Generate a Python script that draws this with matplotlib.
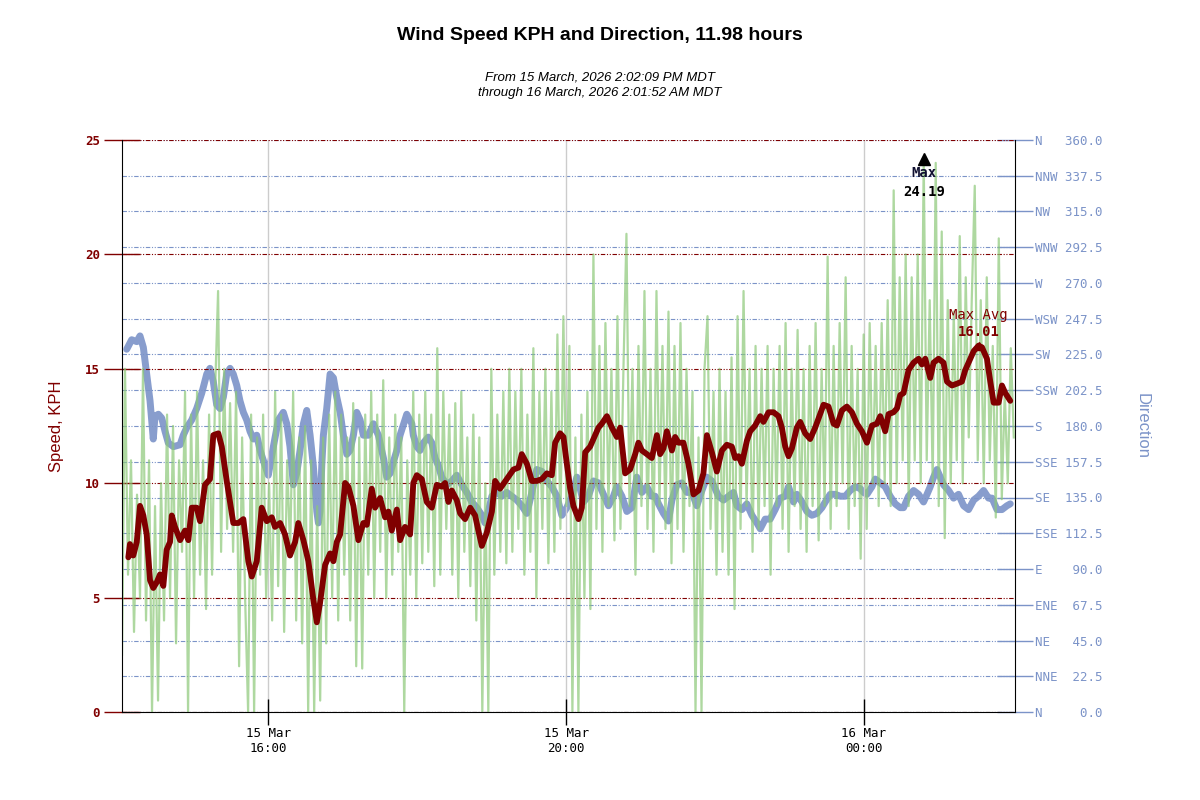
import numpy as np
import pandas as pd
import matplotlib
matplotlib.use('Agg')
import matplotlib.pyplot as plt

# time window
start = pd.Timestamp('2026-03-15 14:02:09')
end = pd.Timestamp('2026-03-16 02:01:52')

# gust speed, one sample every 2.42 minutes
gust_kph = [
    2.5, 15.0, 6.0, 11.0, 3.5, 9.5, 5.0, 15.0, 4.0, 11.0,
    0.0, 9.0, 0.5, 10.0, 4.0, 13.0, 5.0, 12.5, 3.0, 11.0,
    7.0, 14.0, 0.0, 13.0, 5.0, 14.0, 6.0, 11.0, 4.5, 13.0,
    6.0, 14.0, 18.4, 7.0, 15.0, 8.0, 13.5, 7.0, 14.0, 2.0,
    12.0, 5.0, 0.0, 13.0, 0.0, 12.0, 6.0, 13.0, 5.0, 10.0,
    4.0, 14.0, 5.5, 13.0, 3.5, 11.0, 7.0, 14.0, 4.0, 12.0,
    3.0, 12.5, 0.0, 11.0, 0.0, 9.0, 0.5, 12.0, 3.0, 13.0,
    5.0, 14.0, 4.0, 13.0, 6.0, 12.0, 4.0, 13.5, 2.0, 12.0,
    1.9, 13.0, 6.0, 14.0, 5.0, 13.0, 7.0, 14.5, 5.0, 12.0,
    6.0, 13.0, 7.0, 12.0, 0.0, 11.0, 6.0, 14.0, 5.0, 13.0,
    6.5, 14.0, 7.0, 13.0, 5.5, 15.9, 6.0, 14.0, 8.0, 13.0,
    6.0, 13.5, 5.0, 14.0, 7.0, 12.0, 5.5, 13.0, 4.0, 12.0,
    0.0, 10.0, 0.0, 15.0, 6.0, 13.0, 7.0, 14.0, 6.5, 15.0,
    7.0, 14.0, 8.0, 15.0, 6.0, 13.0, 7.0, 15.9, 5.0, 14.0,
    8.0, 15.0, 6.5, 14.0, 7.0, 16.5, 8.0, 17.3, 9.0, 16.0,
    0.0, 12.0, 0.0, 13.0, 5.0, 14.0, 4.5, 20.0, 8.0, 16.0,
    7.0, 17.0, 9.0, 15.0, 7.5, 17.3, 8.0, 15.0, 20.9, 9.0,
    15.0, 6.0, 16.0, 9.0, 18.4, 8.0, 15.0, 7.0, 18.4, 9.0,
    16.0, 8.0, 17.5, 6.5, 16.0, 8.0, 17.0, 7.0, 15.0, 9.0,
    14.0, 0.0, 12.0, 0.0, 15.0, 17.3, 8.0, 14.0, 6.0, 15.0,
    7.0, 14.0, 6.0, 15.5, 4.5, 17.3, 8.0, 18.4, 9.0, 15.0,
    7.0, 16.0, 8.0, 15.0, 9.0, 16.0, 6.0, 15.0, 9.0, 16.0,
    8.0, 17.0, 7.0, 15.0, 9.0, 16.7, 8.0, 15.0, 7.0, 16.0,
    9.0, 17.0, 7.5, 15.0, 9.0, 19.9, 8.0, 16.0, 9.0, 17.0,
    10.0, 19.0, 8.0, 16.0, 9.0, 15.0, 6.7, 16.5, 8.0, 17.0,
    10.0, 16.0, 9.0, 17.0, 10.0, 18.0, 9.0, 22.8, 10.0, 19.0,
    11.0, 20.0, 9.0, 19.0, 11.0, 20.0, 10.0, 24.19, 11.0, 18.0,
    10.0, 24.0, 9.0, 21.0, 7.6, 18.0, 10.0, 17.5, 11.0, 20.8,
    10.0, 19.0, 12.0, 18.0, 23.0, 11.0, 18.0, 10.0, 19.0, 11.0,
    16.0, 8.5, 20.7, 9.3, 14.0, 10.0, 15.9, 12.0,
]
gust_step_min = 2.42

# average speed (minutes after start, kph)
avg_min = [
    5.1, 6.4, 9.1, 11.9, 14.5, 17.2, 19.9, 22.6, 25.2, 28.0,
    30.6, 33.3, 36.0, 38.7, 40.1, 42.7, 46.8, 50.8, 53.5, 56.2,
    60.2, 62.9, 66.9, 70.9, 73.6, 77.6, 80.4, 84.4, 89.7, 93.8,
    97.8, 101.8, 104.6, 108.6, 112.6, 116.7, 120.7, 123.3, 127.4, 131.4,
    135.4, 139.5, 142.1, 146.2, 150.2, 154.2, 157.0, 159.6, 163.7, 167.7,
    170.4, 173.1, 175.8, 179.8, 182.4, 186.5, 190.5, 194.5, 197.3, 201.3,
    204.0, 208.0, 212.0, 214.7, 217.4, 221.5, 224.1, 228.1, 232.2, 234.8,
    237.6, 241.6, 245.6, 249.7, 253.7, 257.7, 260.4, 263.1, 265.8, 269.8,
    272.5, 276.5, 280.6, 284.6, 287.2, 290.0, 294.0, 298.1, 300.7, 304.7,
    310.1, 315.5, 319.5, 322.2, 326.3, 330.3, 334.3, 338.4, 342.4, 346.4,
    349.1, 353.1, 355.8, 358.5, 361.2, 363.8, 367.9, 370.6, 373.3, 377.3,
    380.0, 384.0, 386.7, 390.8, 394.8, 398.8, 401.5, 405.5, 409.5, 413.6,
    416.2, 419.0, 423.0, 427.0, 431.1, 433.7, 436.4, 439.1, 443.2, 445.8,
    448.5, 452.5, 456.5, 460.6, 464.6, 468.6, 471.4, 475.4, 479.4, 483.5,
    487.5, 491.5, 494.2, 496.9, 499.6, 503.6, 506.3, 510.3, 514.4, 517.0,
    521.1, 525.1, 529.1, 531.8, 534.5, 537.2, 539.9, 543.9, 546.6, 550.6,
    554.6, 558.7, 562.7, 565.4, 569.4, 573.5, 576.2, 580.2, 584.2, 588.3,
    592.3, 596.3, 600.4, 604.4, 608.4, 611.1, 615.1, 617.8, 621.8, 624.6,
    627.2, 629.9, 633.9, 638.0, 642.0, 644.7, 647.4, 651.4, 654.1, 658.1,
    662.1, 664.9, 668.9, 672.9, 676.9, 679.6, 683.7, 686.4, 690.3, 693.1,
    697.1, 699.8, 702.5, 706.5, 709.2, 711.9, 715.9,
]
avg_kph = [
    6.76, 7.34, 6.84, 7.43, 9.01, 8.59, 7.76, 5.76, 5.42, 5.67,
    6.01, 5.51, 7.09, 7.43, 8.59, 8.09, 7.51, 7.93, 7.51, 8.93,
    8.93, 8.34, 9.93, 10.18, 12.10, 12.18, 11.60, 10.10, 8.26, 8.26,
    8.43, 6.59, 5.92, 6.59, 8.93, 8.34, 8.51, 8.09, 8.26, 7.76,
    6.84, 7.43, 8.26, 7.51, 6.59, 4.92, 3.92, 4.76, 6.43, 6.93,
    6.59, 7.43, 7.76, 10.01, 9.85, 9.01, 7.51, 8.26, 8.18, 9.76,
    8.93, 9.35, 8.51, 8.76, 7.93, 8.85, 7.51, 8.09, 7.76, 10.01,
    10.35, 10.18, 9.18, 8.93, 9.93, 9.85, 10.01, 9.18, 9.68, 9.26,
    8.68, 8.43, 8.93, 8.59, 7.93, 7.26, 7.84, 8.76, 10.10, 9.76,
    10.18, 10.60, 10.68, 11.27, 10.85, 10.10, 10.10, 10.18, 10.43, 10.35,
    11.77, 12.18, 12.02, 10.85, 9.76, 9.01, 8.43, 8.93, 11.35, 11.60,
    11.93, 12.43, 12.60, 12.93, 12.43, 12.02, 12.43, 10.43, 10.60, 11.27,
    11.77, 11.43, 11.27, 11.10, 12.10, 11.27, 11.52, 12.27, 11.43, 12.02,
    11.77, 11.77, 10.85, 9.51, 9.68, 10.43, 12.10, 11.35, 10.51, 11.43,
    11.68, 11.60, 11.10, 11.18, 10.85, 11.85, 12.27, 12.52, 12.93, 12.68,
    13.10, 13.10, 12.93, 12.43, 11.60, 11.18, 11.52, 12.43, 12.68, 12.18,
    11.93, 12.43, 13.02, 13.43, 13.35, 12.60, 12.52, 13.18, 13.35, 13.10,
    12.60, 12.27, 11.77, 12.52, 12.60, 12.93, 12.27, 13.02, 13.10, 13.27,
    13.85, 13.94, 14.94, 15.27, 15.44, 15.19, 15.44, 14.60, 15.27, 15.44,
    15.27, 14.44, 14.27, 14.35, 14.44, 14.94, 15.44, 15.77, 16.01, 15.94,
    15.44, 14.44, 13.52, 13.52, 14.27, 13.94, 13.60,
]

# wind direction (minutes after start, degrees)
dir_min = [
    3.8, 7.8, 11.9, 14.5, 17.2, 19.9, 22.6, 23.9, 25.2, 26.6,
    29.3, 32.0, 34.7, 37.3, 41.4, 46.8, 49.4, 52.2, 56.2, 60.2,
    64.3, 68.3, 70.9, 73.6, 76.3, 79.0, 81.7, 84.4, 87.1, 89.7,
    92.5, 95.1, 97.8, 100.5, 103.2, 105.9, 108.6, 111.3, 115.3, 117.9,
    122.0, 126.0, 130.0, 132.8, 135.4, 138.1, 140.8, 143.5, 146.2, 148.9,
    151.6, 154.2, 157.0, 158.3, 159.6, 161.0, 162.3, 165.0, 167.7, 170.4,
    173.1, 175.8, 178.4, 181.2, 183.8, 186.5, 189.2, 191.9, 194.5, 198.6,
    202.6, 206.6, 210.7, 213.4, 216.1, 218.7, 221.5, 224.1, 229.5, 233.6,
    234.8, 237.6, 240.2, 242.9, 246.9, 249.7, 252.3, 255.0, 257.7, 261.8,
    265.8, 269.8, 273.9, 277.9, 281.9, 286.0, 290.0, 292.6, 295.3, 298.1,
    302.1, 306.1, 310.1, 314.2, 318.2, 322.2, 326.3, 330.3, 334.3, 338.4,
    342.4, 346.4, 350.5, 354.5, 358.5, 362.5, 366.6, 369.2, 371.9, 375.9,
    380.0, 384.0, 388.0, 392.1, 396.1, 398.8, 402.9, 406.9, 410.9, 414.9,
    419.0, 423.0, 427.0, 429.7, 432.4, 436.4, 440.4, 443.2, 447.2, 451.2,
    455.3, 459.3, 463.3, 467.4, 471.4, 475.4, 479.4, 480.7, 484.8, 488.8,
    492.8, 495.6, 499.6, 503.6, 507.7, 511.7, 514.4, 518.4, 522.4, 526.4,
    530.5, 534.5, 537.2, 541.2, 543.9, 548.0, 552.0, 556.0, 560.1, 564.1,
    566.8, 570.8, 574.8, 578.9, 582.9, 586.9, 591.0, 595.0, 597.6, 600.4,
    604.4, 607.1, 611.1, 615.1, 619.1, 623.2, 627.2, 629.9, 633.9, 638.0,
    642.0, 646.0, 648.8, 651.4, 654.1, 656.8, 659.5, 662.1, 666.2, 670.2,
    674.2, 678.3, 682.3, 686.4, 690.3, 694.4, 698.4, 701.2, 705.2, 709.2,
    713.2, 715.9,
]
dir_deg = [
    228.3, 234.3, 233.1, 236.7, 229.5, 212.7, 195.8, 183.8, 171.8, 186.2,
    187.4, 185.0, 176.6, 169.4, 167.0, 168.2, 174.2, 179.0, 183.8, 191.0,
    200.7, 212.7, 216.3, 207.9, 193.4, 191.0, 198.2, 212.7, 216.3, 212.7,
    205.5, 195.8, 188.6, 183.8, 176.6, 171.8, 174.2, 164.6, 155.0, 149.0,
    167.0, 183.8, 188.6, 181.4, 167.0, 143.0, 150.2, 164.6, 181.4, 189.8,
    174.2, 155.0, 126.2, 119.0, 126.2, 155.0, 174.2, 191.0, 212.7, 210.3,
    198.2, 188.6, 174.2, 162.2, 164.6, 174.2, 188.6, 183.8, 174.2, 174.2,
    181.4, 174.2, 159.8, 147.8, 150.2, 157.4, 164.6, 174.2, 187.4, 181.4,
    174.2, 167.0, 164.6, 169.4, 173.0, 169.4, 159.8, 155.0, 147.8, 143.0,
    145.4, 149.0, 143.0, 138.2, 132.2, 128.6, 123.8, 119.0, 126.2, 135.8,
    138.2, 135.8, 138.2, 135.8, 133.4, 129.8, 125.0, 138.2, 152.6, 151.4,
    145.4, 141.8, 135.8, 123.8, 128.6, 135.8, 147.8, 140.6, 132.2, 135.8,
    145.4, 144.2, 137.0, 129.8, 135.8, 141.8, 135.8, 126.2, 128.6, 147.8,
    138.2, 141.8, 135.8, 135.8, 131.0, 125.0, 120.2, 133.4, 143.0, 144.2,
    138.2, 138.2, 129.8, 139.4, 147.8, 145.4, 138.2, 135.8, 133.4, 135.8,
    138.2, 129.8, 127.4, 131.0, 123.8, 119.0, 115.3, 121.4, 121.4, 127.4,
    134.6, 135.8, 141.8, 132.2, 137.0, 132.2, 126.2, 123.8, 125.0, 128.6,
    132.2, 137.0, 137.0, 135.8, 135.8, 139.4, 141.8, 140.6, 138.2, 137.0,
    141.8, 146.6, 144.2, 141.8, 135.8, 131.0, 128.6, 128.6, 135.8, 139.4,
    137.0, 132.2, 137.0, 141.8, 147.8, 152.6, 147.8, 143.0, 139.4, 134.6,
    137.0, 129.8, 127.4, 133.4, 135.8, 139.4, 134.6, 134.6, 127.4, 127.4,
    129.8, 131.0,
]

compass = ['N', 'NNE', 'NE', 'ENE', 'E', 'ESE', 'SE', 'SSE', 'S',
           'SSW', 'SW', 'WSW', 'W', 'WNW', 'NW', 'NNW', 'N']
dir_ticks = np.arange(0, 360.1, 22.5)
speed_ticks = [0, 5, 10, 15, 20, 25]
x_ticks = [pd.Timestamp('2026-03-15 16:00'), pd.Timestamp('2026-03-15 20:00'),
           pd.Timestamp('2026-03-16 00:00')]

red = '#800000'
blue = '#7b93c8'
green = '#8cc878'
mono = 'DejaVu Sans Mono'
sans = 'Liberation Sans'
gridstyle = (0, (4, 1.5, 1, 1.5, 1, 1.5))

gust_t = start + pd.to_timedelta(np.arange(len(gust_kph)) * gust_step_min, unit='min')
avg_t = start + pd.to_timedelta(avg_min, unit='min')
dir_t = start + pd.to_timedelta(dir_min, unit='min')

fig = plt.figure(figsize=(12, 8), dpi=100)
ax = fig.add_axes([122 / 1200, 88 / 800, 893 / 1200, 572 / 800])
ax2 = ax.twinx()
ax.set_zorder(ax2.get_zorder() + 1)
ax.patch.set_visible(False)

# direction on the back axis
ax2.plot(dir_t, dir_deg, color=blue, lw=5, solid_capstyle='round',
         solid_joinstyle='round', alpha=0.9)
ax2.set_ylim(0, 360)
ax2.set_yticks(dir_ticks)
ax2.set_yticklabels([f'{c:<4}{d:5.1f}' for c, d in zip(compass, dir_ticks)],
                    family=mono, color=blue, fontsize=9)
ax2.tick_params(axis='y', direction='inout', length=26, width=1, colors=blue, pad=1.5)
ax2.grid(axis='y', color=blue, lw=0.8, linestyle=gridstyle)
for s in ['left', 'top', 'bottom']:
    ax2.spines[s].set_visible(False)
ax2.spines['right'].set_color('black')

# speed on the front axis
ax.plot(gust_t, gust_kph, color=green, lw=1.6, alpha=0.7)
ax.plot(avg_t, avg_kph, color=red, lw=4.2, solid_capstyle='round',
        solid_joinstyle='round')
ax.set_ylim(0, 25)
ax.set_xlim(start, end)
ax.set_yticks(speed_ticks)
ax.set_yticklabels([str(v) for v in speed_ticks], family=mono, color=red,
                   fontsize=9, fontweight='bold')
ax.tick_params(axis='y', direction='inout', length=26, width=1, colors=red, pad=3)
ax.grid(axis='y', color=red, lw=0.8, linestyle=gridstyle)
ax.set_xticks(x_ticks)
ax.set_xticklabels([t.strftime('%d %b\n%H:%M') for t in x_ticks],
                   family=mono, fontsize=9, linespacing=1.25)
ax.tick_params(axis='x', direction='inout', length=19, width=1, colors='black', pad=1)
ax.grid(axis='x', color='#cccccc', lw=1, linestyle='-')
for s in ['top', 'right']:
    ax.spines[s].set_visible(False)

# max gust marker
imax = int(np.argmax(gust_kph))
ax.plot(gust_t[imax], gust_kph[imax], marker='^', color='black', markersize=9, zorder=6)
ax.annotate('Max', (gust_t[imax], gust_kph[imax]), xytext=(0, -14),
            textcoords='offset pixels', ha='center', va='center',
            family=mono, fontsize=10, fontweight='bold', color='#101030')
ax.annotate(f'{gust_kph[imax]:.2f}', (gust_t[imax], gust_kph[imax]), xytext=(0, -33),
            textcoords='offset pixels', ha='center', va='center',
            family=mono, fontsize=10, fontweight='bold', color='black')

# max average marker
jmax = int(np.argmax(avg_kph))
ax.plot(avg_t[jmax], avg_kph[jmax], marker='^', color=red, markersize=6, zorder=6)
ax.annotate('Max Avg', (avg_t[jmax], avg_kph[jmax]), xytext=(0, 31),
            textcoords='offset pixels', ha='center', va='center',
            family=mono, fontsize=10, color=red)
ax.annotate(f'{avg_kph[jmax]:.2f}', (avg_t[jmax], avg_kph[jmax]), xytext=(0, 14),
            textcoords='offset pixels', ha='center', va='center',
            family=mono, fontsize=10, fontweight='bold', color=red)

# titles and axis names
fig.text(0.5, 1 - 35 / 800, 'Wind Speed KPH and Direction, 11.98 hours',
         ha='center', va='center', family=sans, fontsize=14, fontweight='bold')
fig.text(0.5, 1 - 77 / 800, 'From 15 March, 2026 2:02:09 PM MDT',
         ha='center', va='center', family=sans, fontsize=9.5, style='italic')
fig.text(0.5, 1 - 93 / 800, 'through 16 March, 2026 2:01:52 AM MDT',
         ha='center', va='center', family=sans, fontsize=9.5, style='italic')
fig.text(57 / 1200, 1 - 426 / 800, 'Speed, KPH', rotation=90, ha='center',
         va='center', family=sans, fontsize=12, color=red)
fig.text(1142 / 1200, 1 - 426 / 800, 'Direction', rotation=270, ha='center',
         va='center', family=sans, fontsize=12, color=blue)

fig.savefig('out.png', dpi=100)
